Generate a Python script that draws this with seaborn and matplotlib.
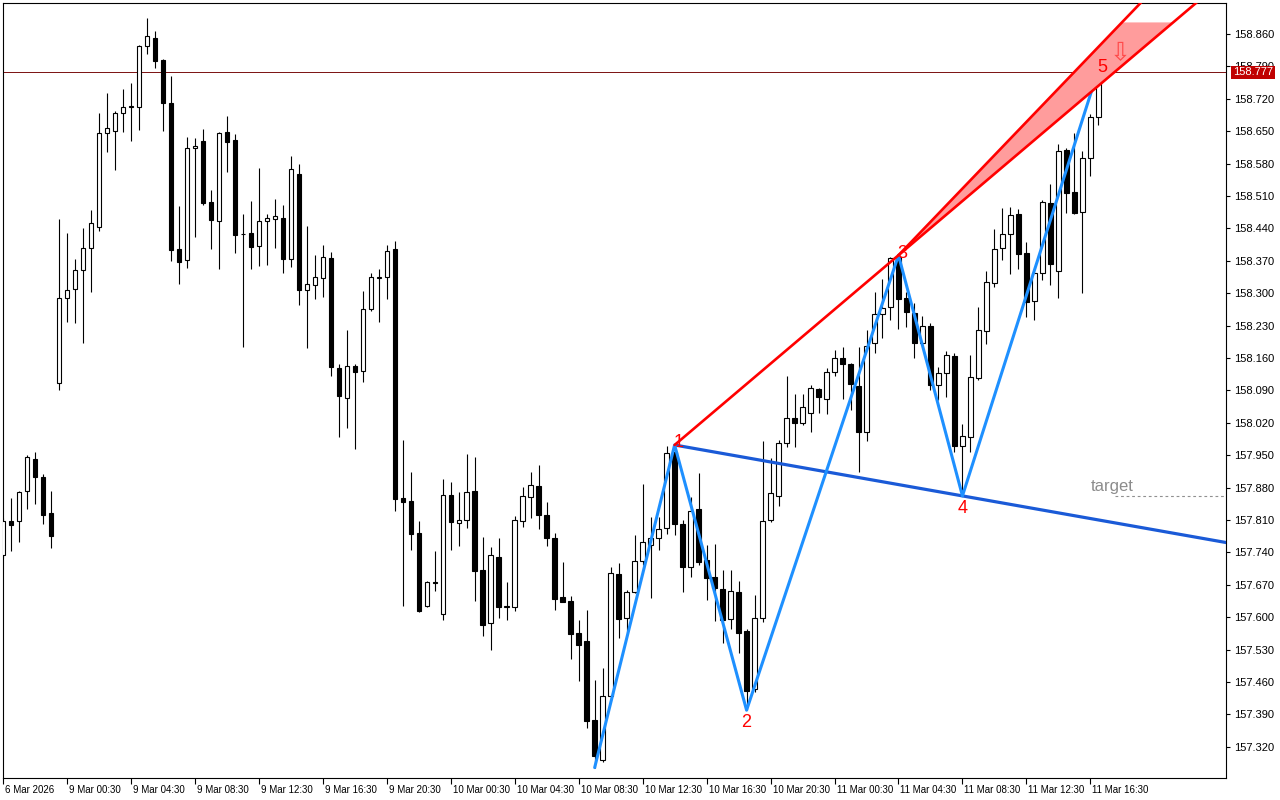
import numpy as np
import matplotlib
matplotlib.use("Agg")
import matplotlib.pyplot as plt
import matplotlib.transforms as mtransforms
from matplotlib import font_manager
import seaborn as sns

# ---------------- data (30-minute bars) ----------------
opens = [
    157.735, 157.807, 157.807, 157.872, 157.941, 157.903, 157.825, 158.105, 158.290, 158.310,
    158.351, 158.397, 158.443, 158.647, 158.651, 158.689, 158.703, 158.703, 158.834, 158.852,
    158.803, 158.711, 158.395, 158.371, 158.613, 158.628, 158.497, 158.456, 158.648, 158.631,
    158.428, 158.430, 158.403, 158.455, 158.461, 158.462, 158.374, 158.557, 158.306, 158.317,
    158.332, 158.377, 158.138, 158.074, 158.142, 158.132, 158.266, 158.333, 158.334, 158.395,
    157.857, 157.850, 157.781, 157.625, 157.675, 157.606, 157.865, 157.804, 157.809, 157.872,
    157.702, 157.587, 157.730, 157.623, 157.623, 157.808, 157.860, 157.883, 157.821, 157.771,
    157.644, 157.635, 157.566, 157.548, 157.378, 157.291, 157.430, 157.693, 157.598, 157.655,
    157.721, 157.756, 157.770, 157.792, 157.957, 157.801, 157.709, 157.834, 157.723, 157.687,
    157.661, 157.595, 157.654, 157.571, 157.444, 157.598, 157.810, 157.862, 157.976, 158.030,
    158.019, 158.042, 158.094, 158.071, 158.129, 158.159, 158.148, 158.099, 158.001, 158.192,
    158.256, 158.271, 158.378, 158.289, 158.258, 158.192, 158.230, 158.101, 158.127, 158.164,
    157.970, 157.990, 158.116, 158.219, 158.323, 158.397, 158.427, 158.471, 158.386, 158.284,
    158.343, 158.494, 158.348, 158.609, 158.518, 158.476, 158.593, 158.680]
highs = [
    157.814, 157.858, 157.872, 157.950, 157.957, 157.909, 157.872, 158.460, 158.430, 158.374,
    158.441, 158.479, 158.689, 158.732, 158.693, 158.741, 158.755, 158.836, 158.894, 158.866,
    158.807, 158.769, 158.488, 158.637, 158.635, 158.654, 158.523, 158.648, 158.682, 158.644,
    158.471, 158.499, 158.570, 158.471, 158.503, 158.490, 158.596, 158.579, 158.445, 158.382,
    158.404, 158.388, 158.146, 158.220, 158.146, 158.304, 158.343, 158.352, 158.404, 158.413,
    157.983, 157.914, 157.808, 157.678, 157.743, 157.898, 157.891, 157.870, 157.952, 157.946,
    157.773, 157.752, 157.771, 157.676, 157.818, 157.881, 157.914, 157.929, 157.849, 157.782,
    157.719, 157.646, 157.594, 157.615, 157.465, 157.490, 157.708, 157.716, 157.659, 157.777,
    157.888, 157.816, 157.816, 157.970, 157.972, 157.810, 157.860, 157.911, 157.756, 157.758,
    157.702, 157.702, 157.678, 157.574, 157.648, 157.980, 157.943, 157.983, 158.121, 158.083,
    158.082, 158.101, 158.096, 158.138, 158.177, 158.184, 158.149, 158.184, 158.220, 158.303,
    158.330, 158.378, 158.382, 158.303, 158.278, 158.250, 158.235, 158.140, 158.176, 158.170,
    158.017, 158.166, 158.270, 158.348, 158.438, 158.485, 158.487, 158.481, 158.410, 158.345,
    158.501, 158.536, 158.622, 158.614, 158.645, 158.607, 158.688, 158.783]
lows = [
    157.728, 157.744, 157.762, 157.834, 157.845, 157.802, 157.750, 158.090, 158.238, 158.235,
    158.193, 158.302, 158.435, 158.605, 158.567, 158.648, 158.629, 158.653, 158.817, 158.787,
    158.651, 158.370, 158.320, 158.355, 158.421, 158.491, 158.395, 158.352, 158.562, 158.387,
    158.184, 158.353, 158.359, 158.361, 158.398, 158.344, 158.357, 158.275, 158.182, 158.288,
    158.292, 158.122, 157.990, 158.009, 157.964, 158.109, 158.262, 158.238, 158.288, 157.830,
    157.625, 157.745, 157.612, 157.622, 157.657, 157.594, 157.745, 157.754, 157.793, 157.636,
    157.560, 157.528, 157.599, 157.594, 157.613, 157.795, 157.815, 157.790, 157.754, 157.615,
    157.633, 157.510, 157.462, 157.361, 157.275, 157.287, 157.425, 157.556, 157.565, 157.652,
    157.713, 157.641, 157.745, 157.779, 157.778, 157.654, 157.686, 157.713, 157.637, 157.592,
    157.545, 157.574, 157.523, 157.399, 157.438, 157.590, 157.806, 157.840, 157.968, 157.968,
    158.015, 158.000, 158.042, 158.038, 158.122, 158.071, 158.047, 157.913, 157.981, 158.171,
    158.204, 158.243, 158.223, 158.227, 158.161, 158.188, 158.091, 158.069, 158.076, 157.957,
    157.862, 157.957, 158.112, 158.190, 158.314, 158.371, 158.341, 158.353, 158.249, 158.243,
    158.328, 158.317, 158.289, 158.474, 158.472, 158.301, 158.554, 158.663]
closes = [
    157.808, 157.800, 157.870, 157.945, 157.903, 157.820, 157.776, 158.289, 158.306, 158.349,
    158.398, 158.451, 158.645, 158.657, 158.690, 158.703, 158.704, 158.833, 158.855, 158.802,
    158.711, 158.394, 158.368, 158.613, 158.618, 158.495, 158.458, 158.645, 158.627, 158.426,
    158.427, 158.400, 158.455, 158.462, 158.466, 158.374, 158.568, 158.307, 158.319, 158.334,
    158.379, 158.140, 158.078, 158.142, 158.130, 158.265, 158.334, 158.334, 158.392, 157.856,
    157.849, 157.780, 157.614, 157.675, 157.674, 157.863, 157.806, 157.809, 157.870, 157.700,
    157.584, 157.734, 157.623, 157.624, 157.809, 157.861, 157.885, 157.821, 157.771, 157.639,
    157.633, 157.564, 157.540, 157.376, 157.299, 157.430, 157.695, 157.596, 157.654, 157.721,
    157.762, 157.771, 157.790, 157.954, 157.802, 157.709, 157.829, 157.720, 157.684, 157.662,
    157.594, 157.656, 157.566, 157.441, 157.598, 157.808, 157.868, 157.976, 158.030, 158.019,
    158.053, 158.096, 158.075, 158.129, 158.159, 158.147, 158.103, 157.999, 158.186, 158.256,
    158.268, 158.376, 158.287, 158.260, 158.192, 158.230, 158.101, 158.127, 158.166, 157.970,
    157.992, 158.118, 158.220, 158.325, 158.395, 158.427, 158.468, 158.384, 158.281, 158.343,
    158.496, 158.362, 158.607, 158.516, 158.474, 158.591, 158.680, 158.777]

time_labels = ["6 Mar 2026", "9 Mar 00:30", "9 Mar 04:30", "9 Mar 08:30", "9 Mar 12:30",
               "9 Mar 16:30", "9 Mar 20:30", "10 Mar 00:30", "10 Mar 04:30", "10 Mar 08:30",
               "10 Mar 12:30", "10 Mar 16:30", "10 Mar 20:30", "11 Mar 00:30", "11 Mar 04:30",
               "11 Mar 08:30", "11 Mar 12:30", "11 Mar 16:30"]
bars_per_label = 8

price_ticks = [157.320, 157.390, 157.460, 157.530, 157.600, 157.670, 157.740, 157.810,
               157.880, 157.950, 158.020, 158.090, 158.160, 158.230, 158.300, 158.370,
               158.440, 158.510, 158.580, 158.650, 158.720, 158.790, 158.860]

# Wolfe-wave pivots: bar index, which extreme, label
wave_idx = [74, 84, 93, 112, 120, 137]
wave_side = ["low", "high", "low", "high", "low", "high"]
wave_names = ["", "1", "2", "3", "4", "5"]
current_price = 158.777
zone_slope = 0.0180      # price per bar of the upper edge of the red zone
zone_top = 158.885
target_text = "target"

# ---------------- styling ----------------
sns.set_theme(style="white")
names = {f.name for f in font_manager.fontManager.ttflist}
axis_font = "Liberation Sans Narrow" if "Liberation Sans Narrow" in names else "Liberation Sans"
bottom_size = 7.8 if axis_font == "Liberation Sans Narrow" else 7.0
plt.rcParams["font.family"] = ["Liberation Sans", "DejaVu Sans"]

W, H = 1280, 800
fig = plt.figure(figsize=(W / 100, H / 100), dpi=100, facecolor="white")
ax = fig.add_axes([3 / W, 22 / H, 1223 / W, 775.3 / H])
ax.set_facecolor("white")

o = np.array(opens); h = np.array(highs); l = np.array(lows); c = np.array(closes)
idx = np.arange(len(o))
bull = c >= o
bottom = np.minimum(o, c)
height = np.maximum(np.abs(c - o), 0.0003)

ax.vlines(idx, l, h, color="black", lw=0.8, zorder=2)
ax.bar(idx[bull], height[bull], bottom=bottom[bull], width=0.56, color="white",
       edgecolor="black", linewidth=0.8, zorder=3)
ax.bar(idx[~bull], height[~bull], bottom=bottom[~bull], width=0.56, color="black",
       edgecolor="black", linewidth=0.8, zorder=3)

x_left = 0.0875
x_right = x_left + 1223 / 8
y_low, y_high = 157.2525, 158.9276
ax.set_xlim(x_left, x_right)
ax.set_ylim(y_low, y_high)

# pivots
wp = np.array([h[i] if s == "high" else l[i] for i, s in zip(wave_idx, wave_side)])
wi = np.array(wave_idx, dtype=float)

# current price line
ax.axhline(current_price, color="#7a1010", lw=0.7, zorder=1.5)

# 1-4 line (blue)
far = x_right + 10
s14 = (wp[4] - wp[1]) / (wi[4] - wi[1])
ax.plot([wi[1], far], [wp[1], wp[1] + s14 * (far - wi[1])], color="#1a5ad7", lw=2.3,
        solid_capstyle="butt", zorder=4)

# zigzag (seaborn)
sns.lineplot(x=wi, y=wp, ax=ax, color="#1e90ff", lw=2.2, sort=False, estimator=None,
             zorder=5)

# red lines and zone
s13 = (wp[3] - wp[1]) / (wi[3] - wi[1])
xa_top = wi[3] + (zone_top - wp[3]) / zone_slope
xb_top = wi[1] + (zone_top - wp[1]) / s13
ax.fill([wi[3], xa_top, xb_top], [wp[3], zone_top, zone_top], color="#ff9c9c", lw=0,
        zorder=5.5)
ax.plot([wi[1], far], [wp[1], wp[1] + s13 * (far - wi[1])], color="#ff0000", lw=1.9,
        zorder=6)
ax.plot([wi[3], far], [wp[3], wp[3] + zone_slope * (far - wi[3])], color="#ff0000", lw=1.9,
        zorder=6)

# pivot labels
for k in range(1, len(wi)):
    if wave_side[k] == "low":
        off = (0, -9)
    else:
        off = (3, 1.5)
    z = 4.5 if k == 1 else 7
    ax.annotate(wave_names[k], xy=(wi[k], wp[k]), xytext=off, textcoords="offset points",
                ha="center", va="center", color="#ff0000", fontsize=13, zorder=z)

# sell arrow above point 5
ax.annotate("\u21e9", xy=(wi[5], wp[5]), xytext=(15.5, 12), textcoords="offset points",
            ha="center", va="center", color="#ff4a4a", fontsize=18,
            family="DejaVu Sans", zorder=7)

# target (level of point 4)
target = wp[4]
ax.plot([wi[5] + 2.1, far], [target, target], color="#909090", lw=0.8,
        ls=(0, (2.5, 2.5)), zorder=4)
ax.annotate(target_text, xy=(wi[5] - 1.0, target), xytext=(0, 1.5),
            textcoords="offset points", ha="left", va="bottom", color="#8c8c8c",
            fontsize=12, zorder=7)

# axes / ticks
for sp in ax.spines.values():
    sp.set_visible(True)
    sp.set_color("black")
    sp.set_linewidth(0.8)

ax.yaxis.tick_right()
ax.set_yticks(price_ticks)
ax.set_yticklabels([f"{v:.3f}" for v in price_ticks])
ax.tick_params(axis="y", which="major", right=True, left=False, length=3, width=0.8,
               pad=3, labelsize=8, colors="black")
for lab in ax.get_yticklabels():
    lab.set_family("Liberation Sans")

ax.set_xticks([k * bars_per_label for k in range(len(time_labels))])
ax.set_xticklabels(time_labels, ha="left")
ax.tick_params(axis="x", which="major", bottom=True, length=4.5, width=0.8, pad=0.8,
               labelsize=bottom_size, colors="black")
shift = mtransforms.ScaledTranslation(2 / 100, 0, fig.dpi_scale_trans)
for lab in ax.get_xticklabels():
    lab.set_family(axis_font)
    lab.set_transform(lab.get_transform() + shift)

ax.set_xlabel("")
ax.set_ylabel("")
ax.grid(False)

# current price tag on the price scale
tag_tr = mtransforms.blended_transform_factory(ax.transAxes, ax.transData)
ax.annotate(f"{current_price:.3f}", xy=(1.0, current_price), xycoords=tag_tr,
            xytext=(5.0, 0), textcoords="offset points", ha="left", va="center",
            color="white", fontsize=8, annotation_clip=False, zorder=10,
            bbox=dict(boxstyle="square,pad=0.15", fc="#c00000", ec="none"))

fig.savefig("out.png", dpi=100, facecolor="white")
